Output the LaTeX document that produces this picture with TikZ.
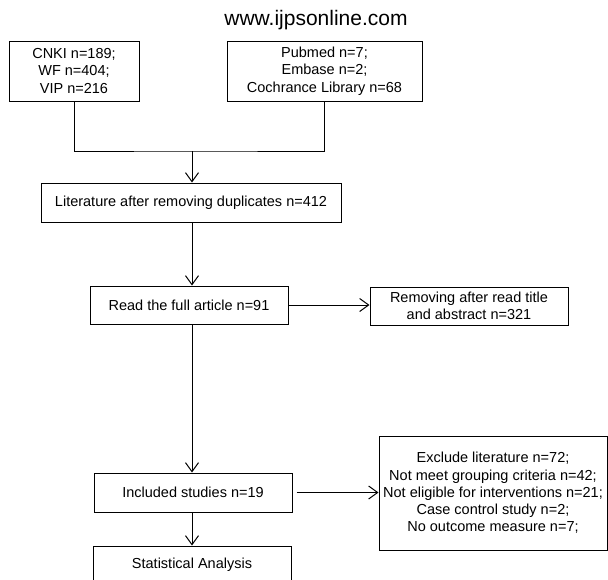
\documentclass[tikz,border=0pt]{standalone}
\usepackage{fontspec}
\setmainfont{Liberation Sans}
\usetikzlibrary{arrows.meta}
\begin{document}
\begin{tikzpicture}[x=1pt,y=-1pt,
  box/.style={draw, line width=1pt, inner sep=0pt, align=center,
    font=\fontsize{14.5}{17.3}\selectfont},
  conn/.style={line width=1pt},
  arr/.style={line width=1pt, -{Straight Barb[length=9pt,width=13pt,line width=1pt]}}]
\useasboundingbox (0,0) rectangle (608,579);
\node[font=\fontsize{21}{24}\selectfont] (title) at (316,20) {www.ijpsonline.com};
\node[box, minimum width=130pt, minimum height=60pt] (b1) at (74,71) {CNKI n=189;\\WF n=404;\\VIP n=216};
\node[box, minimum width=195pt, minimum height=60pt] (b2) at (324.5,71) {Pubmed n=7;\\Embase n=2;\\Cochrance Library n=68};
\node[box, minimum width=300pt, minimum height=39pt] (b3) at (191,202.5) {Literature after removing duplicates n=412};
\node[box, minimum width=198pt, minimum height=38pt] (b4) at (189,305) {Read the full article n=91};
\node[box, minimum width=198pt, minimum height=38pt] (b5) at (469,306) {Removing after read title\\and abstract n=321};
\node[box, minimum width=198pt, minimum height=39pt] (b6) at (193,492.5) {Included studies n=19};
\node[box, minimum width=228pt, minimum height=114pt] (b7) at (493,493) {Exclude literature n=72;\\Not meet grouping criteria n=42;\\Not eligible for interventions n=21;\\Case control study n=2;\\No outcome measure n=7;};
\node[box, minimum width=198pt, minimum height=38pt] (b8) at (192,565) {Statistical Analysis};
\coordinate (J) at (192,151);
\draw[conn] (b1.south) |- (J) -| (b2.south);
\draw[arr] (J) -- (b3.north -| J);
\draw[arr] (b3.south -| J) -- (b4.north -| J);
\draw[arr] (b4.east) -- (b5.west |- b4.east);
\draw[arr] (b4.south -| J) -- (b6.north -| J);
\draw[arr, shorten <=4pt] (b6.east) -- (b7.west |- b6.east);
\draw[arr] (b6.south -| J) -- (b8.north -| J);
\end{tikzpicture}
\end{document}
